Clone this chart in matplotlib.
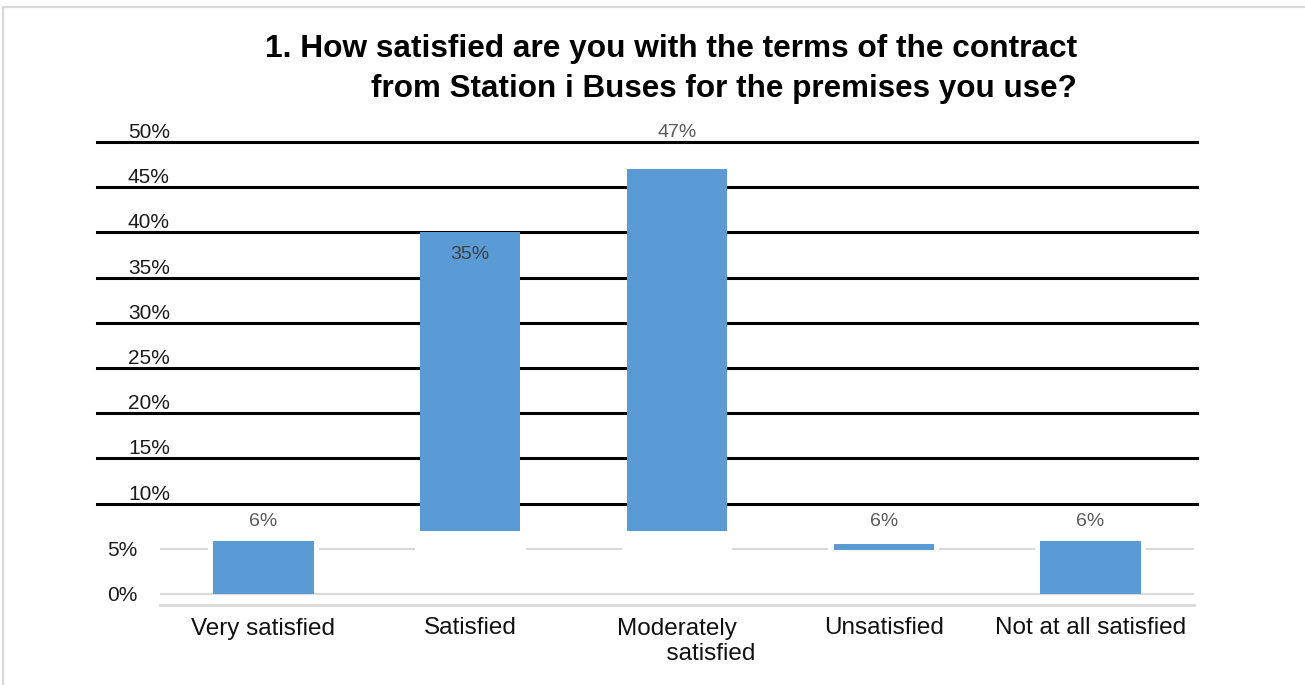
import matplotlib
matplotlib.use("Agg")
import matplotlib.pyplot as plt
from matplotlib.lines import Line2D
from matplotlib.transforms import ScaledTranslation
import numpy as np

plt.rcParams['font.family'] = ['Liberation Sans', 'DejaVu Sans']

# Survey answers
categories = ["Very satisfied", "Satisfied", "Moderately\n          satisfied",
              "Unsatisfied", "Not at all satisfied"]
responses = [1, 6, 8, 1, 1]
shares = [100 * r / sum(responses) for r in responses]

# Drawn extent of each bar (percent)
bar_low = [0.0, 7.0, 7.0, 4.9, 0.0]
bar_high = [5.88, 40.0, 47.06, 5.5, 5.88]

# Axis ticks
light_ticks = [0, 5]
dark_ticks = [10, 15, 20, 25, 30, 35, 40, 45, 50]

title_1 = "1. How satisfied are you with the terms of the contract"
title_2 = "from Station i Buses for the premises you use?"

BLUE = "#5B9BD5"
GRID = "#D9D9D9"

fig = plt.figure(figsize=(13.05, 6.85), dpi=100)
ax = fig.add_axes([160 / 1305, 80 / 685, 1034 / 1305, 463 / 685])

x = np.arange(len(categories))
width = 0.485

ax.set_xlim(-0.5, len(categories) - 0.5)
ax.set_ylim(-1.22, 50)

# light gridline at 0 across the plot, at 5 broken around each bar
ax.axhline(0, color=GRID, lw=1.5, zorder=1)
gap = width / 2 + 0.025
ax.hlines(5, -0.5, x[0] - gap, color=GRID, lw=1.5, zorder=1)
for i in range(1, len(categories)):
    ax.hlines(5, x[i - 1] + gap, x[i] - gap, color=GRID, lw=1.5, zorder=1)
ax.hlines(5, x[-1] + gap, len(categories) - 0.5, color=GRID, lw=1.5, zorder=1)

# dark rules at 10 % .. 50 %, running past the axes on the left
trans = ax.get_yaxis_transform()
for t in dark_ticks:
    ax.add_line(Line2D([-0.061, 1.003], [t, t], transform=trans,
                       color="black", lw=2.2, clip_on=False, zorder=2))
    ax.text(-0.031, t, f"{t}%", transform=trans, ha="left", va="bottom",
            fontsize=15, color="#1a1a1a", clip_on=False)

# bars
heights = [h - l for h, l in zip(bar_high, bar_low)]
ax.bar(x, heights, width=width, bottom=bar_low, color=BLUE, zorder=3)

# value labels
label_offset_pt = [8, None, 20, 8, 8]
for i, s in enumerate(shares):
    txt = f"{s:.0f}%"
    if label_offset_pt[i] is None:
        ax.text(x[i], bar_high[i], txt, ha="center", va="top",
                fontsize=14, color="#404040", zorder=4,
                transform=ax.transData + ScaledTranslation(0, -10 / 72, fig.dpi_scale_trans))
    else:
        ax.text(x[i], shares[i], txt, ha="center", va="bottom",
                fontsize=14, color="#595959", zorder=4, clip_on=False,
                transform=ax.transData + ScaledTranslation(0, label_offset_pt[i] / 72,
                                                           fig.dpi_scale_trans))

# axes styling
for side in ["top", "right", "left"]:
    ax.spines[side].set_visible(False)
ax.spines["bottom"].set_color(GRID)
ax.spines["bottom"].set_linewidth(2)

ax.set_xticks(x)
ax.set_xticklabels(categories, fontsize=17.5, color="#111111")
ax.tick_params(axis="x", length=0, pad=9)
ax.set_yticks(light_ticks)
ax.set_yticklabels([f"{t}%" for t in light_ticks], fontsize=15, color="#1a1a1a")
ax.tick_params(axis="y", length=0, pad=16.5)

# titles
fig.text(671 / 1305, 1 - 49 / 685, title_1, ha="center", va="center",
         fontsize=22.8, fontweight="bold", color="black")
fig.text(724 / 1305, 1 - 89 / 685, title_2, ha="center", va="center",
         fontsize=22.6, fontweight="bold", color="black")

# frame lines along the top and left of the figure
fig.add_artist(Line2D([3.5 / 1305, 1], [1 - 6.5 / 685, 1 - 6.5 / 685],
                      transform=fig.transFigure, color=GRID, lw=1.6))
fig.add_artist(Line2D([3.5 / 1305, 3.5 / 1305], [0, 1 - 6.5 / 685],
                      transform=fig.transFigure, color=GRID, lw=1.6))

fig.savefig("out.png", dpi=100, facecolor="white")
